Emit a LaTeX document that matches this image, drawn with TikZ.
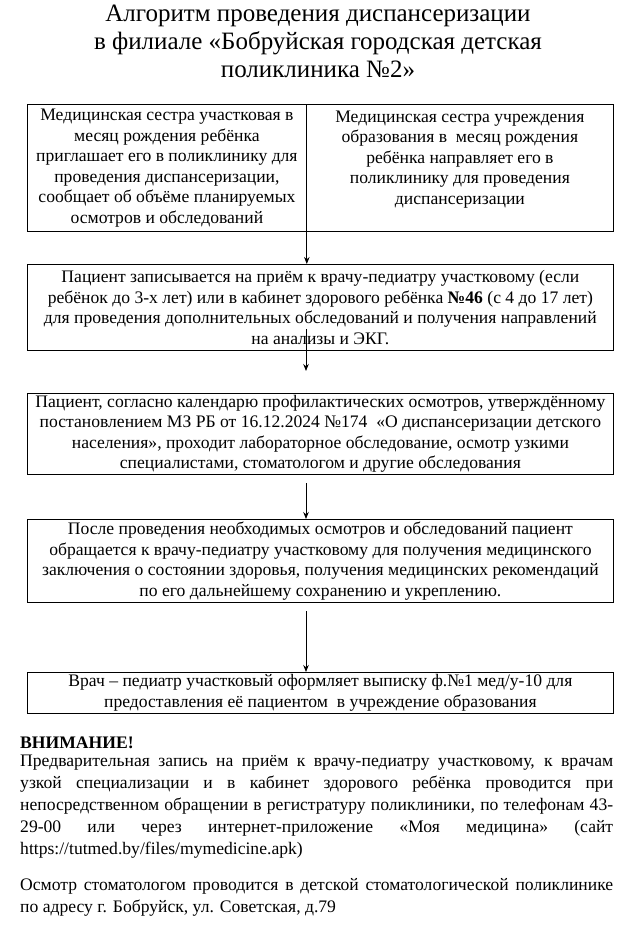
\documentclass[tikz,border=0pt]{standalone}
\usepackage{fontspec}
\setmainfont{Liberation Serif}
\usetikzlibrary{arrows.meta, positioning, calc}

\begin{document}
\begin{tikzpicture}[x=1pt, y=-1pt,
    flowbox/.style={draw, line width=0.8pt, align=center, inner sep=0pt,
      font=\fontsize{17.6}{20.5}\selectfont, execute at begin node={\rule{0pt}{19pt}}},
    flowarrow/.style={line width=0.8pt, -{Stealth[length=7pt, width=5.5pt]}},
    notetext/.style={anchor=north west, inner sep=0pt, text width=593pt, align=justify,
      font=\fontsize{17.6}{22}\selectfont}]

      \def\xL{27}
      \def\xM{306}
      \def\wFull{586}

      \useasboundingbox (0,0) rectangle (631,928);

      \node[font=\fontsize{25}{28}\selectfont, align=center] (title) at (318,41)
        {Алгоритм проведения диспансеризации\\в филиале «Бобруйская городская детская\\поликлиника №2»};

      \node[flowbox, anchor=north west, minimum width=279, minimum height=127] (nurse) at (\xL,104)
        {Медицинская сестра участковая в\\месяц рождения ребёнка\\приглашает его в поликлинику для\\проведения диспансеризации,\\сообщает об объёме планируемых\\осмотров и обследований};
      \node[flowbox, anchor=north west, minimum width=307, minimum height=127] (school) at (\xM,104)
        {Медицинская сестра учреждения\\образования в~ месяц рождения\\ребёнка направляет его в\\поликлинику для проведения\\диспансеризации\\\mbox{}};

      \node[flowbox, anchor=north west, minimum width=\wFull, minimum height=86] (appoint) at (\xL,264)
        {Пациент записывается на приём к врачу-педиатру участковому (если\\ребёнок до 3-х лет) или в кабинет здорового ребёнка \textbf{№46} (с 4 до 17 лет)\\для проведения дополнительных обследований и получения направлений\\на анализы и ЭКГ.};

      \node[flowbox, anchor=north west, minimum width=\wFull, minimum height=81] (exam) at (\xL,393)
        {Пациент, согласно календарю профилактических осмотров, утверждённому\\постановлением МЗ РБ от 16.12.2024 №174~ «О диспансеризации детского\\населения», проходит лабораторное обследование, осмотр узкими\\специалистами, стоматологом и другие обследования};

      \node[flowbox, anchor=north west, minimum width=\wFull, minimum height=83] (verdict) at (\xL,519)
        {После проведения необходимых осмотров и обследований пациент\\обращается к врачу-педиатру участковому для получения медицинского\\заключения о состоянии здоровья, получения медицинских рекомендаций\\по его дальнейшему сохранению и укреплению.};

      \node[flowbox, anchor=north west, minimum width=\wFull, minimum height=41] (extract) at (\xL,672)
        {Врач – педиатр участковый оформляет выписку ф.№1 мед/у-10 для\\предоставления её пациентом~ в учреждение образования};

      \coordinate (gapA) at (\xM,329);
      \coordinate (gapB) at (\xM,371);
      \coordinate (gapC) at (\xM,483);
      \coordinate (gapD) at (\xM,611);

      \draw[flowarrow] (nurse.south east) -- (nurse.south east |- appoint.north);
      \draw[flowarrow] (gapA) -- (gapB);
      \draw[flowarrow] (gapC) -- (gapC |- verdict.north);
      \draw[flowarrow] (gapD) -- (gapD |- extract.north);

      \node[notetext, font=\fontsize{17.6}{22}\selectfont\bfseries] (attn) at (20,737) {ВНИМАНИЕ!};
      \node[notetext, below=5pt of attn.south west, anchor=north west] (booking)
        {Предварительная запись на приём к врачу-педиатру участковому, к врачам\linebreak
         узкой специализации и в кабинет здорового ребёнка проводится при\linebreak
         непосредственном обращении в регистратуру поликлиники, по телефонам 43-\linebreak
         29-00 или через интернет-приложение «Моя медицина» (сайт\linebreak
         https://tutmed.by/files/mymedicine.apk)};
      \node[notetext, below=20pt of booking.south west, anchor=north west] (dentist)
        {Осмотр стоматологом проводится в детской стоматологической поликлинике\linebreak
         по адресу г. Бобруйск, ул. Советская, д.79};

    \end{tikzpicture}
\end{document}
